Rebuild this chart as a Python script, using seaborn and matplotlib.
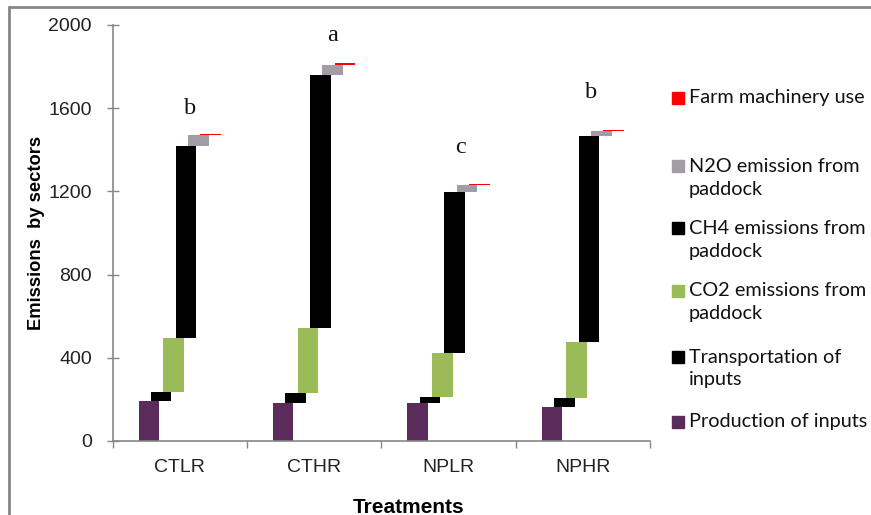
import numpy as np
import pandas as pd
import matplotlib
matplotlib.use("Agg")
import matplotlib.pyplot as plt
import seaborn as sns
from matplotlib.lines import Line2D
from matplotlib.patches import Rectangle

# Data (increment of each sector)
treatments = ["CTLR", "CTHR", "NPLR", "NPHR"]
production = [192, 181, 181, 162]
transport = [45, 48, 29, 43]
co2 = [258, 316, 212, 273]
ch4 = [925, 1214, 777, 986]
n2o = [50, 49, 31, 26]
machinery = [7, 8, 4, 4]
letters = ["b", "a", "c", "b"]
letter_y = [1600, 1950, 1412, 1676]

sectors = [
    ("Production of inputs", production, "#5B2C5B"),
    ("Transportation of\ninputs", transport, "#000000"),
    ("CO2 emissions from\npaddock", co2, "#9BBB59"),
    ("CH4 emissions from\npaddock", ch4, "#000000"),
    ("N2O emission from\npaddock", n2o, "#A39BA6"),
    ("Farm machinery use", machinery, "#FF0000"),
]

sns.set_theme(style="white")
plt.rcParams["font.family"] = ["Liberation Sans", "DejaVu Sans"]

fig = plt.figure(figsize=(8.71, 5.15), dpi=100)
ax = fig.add_axes([0.1292, 0.1437, 0.6171, 0.8078])

idx = np.arange(len(treatments))
step = 0.092
bar_w = 0.153
bottom = np.zeros(len(treatments))
for i, (name, vals, col) in enumerate(sectors):
    off = (i - 2.5) * step
    df = pd.DataFrame({"x": idx + off, "y": vals})
    sns.barplot(data=df, x="x", y="y", native_scale=True, width=bar_w,
                bottom=bottom.copy(), color=col, saturation=1,
                errorbar=None, linewidth=0, edgecolor="none", ax=ax)
    bottom = bottom + np.array(vals)

# significance letters
letter_dx = [0.08, 0.14, 0.09, 0.06]
for i, t in enumerate(letters):
    ax.text(idx[i] + letter_dx[i], letter_y[i], t, ha="center", va="center",
            fontsize=17.5, family="Liberation Serif", color="#111111")

ax.set_xlim(-0.5, 3.5)
ax.set_ylim(0, 2000)
ax.set_yticks(np.arange(0, 2001, 400))
ax.set_xticks(np.arange(-0.5, 3.6, 1))
ax.set_xticklabels([])
ax.set_xticks(idx, minor=True)
ax.set_xticklabels(treatments, minor=True)

grey = "#868686"
for s in ["top", "right"]:
    ax.spines[s].set_visible(False)
for s in ["left", "bottom"]:
    ax.spines[s].set_color(grey)
    ax.spines[s].set_linewidth(1.2)

ax.tick_params(axis="y", direction="inout", length=8.6, width=1, color=grey,
               pad=10.5, labelsize=14, labelcolor="#222222", left=True)
ax.tick_params(axis="x", which="major", direction="out", length=5, width=1,
               color=grey, bottom=True)
ax.tick_params(axis="x", which="minor", length=0, pad=13, labelsize=14,
               labelcolor="#222222")

ax.set_xlabel("Treatments", fontsize=15, fontweight="bold", color="black")
ax.xaxis.set_label_coords(0.55, -0.159)
ax.xaxis.label.set_va("center")
ax.set_ylabel("Emissions  by sectors", fontsize=13.2, fontweight="bold", color="black")
ax.yaxis.set_label_coords(-0.142, 0.5)
ax.yaxis.label.set_va("center")

# legend drawn by hand, top entry first
W, H = 871.0, 515.0
handle_y = [98, 166, 228, 291, 357, 422]
for (name, vals, col), hy in zip(reversed(sectors), handle_y):
    fig.patches.append(Rectangle((672 / W, 1 - (hy + 6) / H), 12 / W, 12 / H,
                                 transform=fig.transFigure, color=col))
    for k, line in enumerate(name.split("\n")):
        fig.text(689 / W, 1 - (hy + k * 23) / H, line, ha="left", va="center",
                 fontsize=14.3, family="Lato", color="#111111")

# frame line on top and left
fig.add_artist(Line2D([9 / W, 1], [1 - 7 / H, 1 - 7 / H], color=grey, lw=2,
                      transform=fig.transFigure))
fig.add_artist(Line2D([9 / W, 9 / W], [0, 1 - 7 / H], color=grey, lw=2,
                      transform=fig.transFigure))

fig.savefig("out.png", dpi=100)
